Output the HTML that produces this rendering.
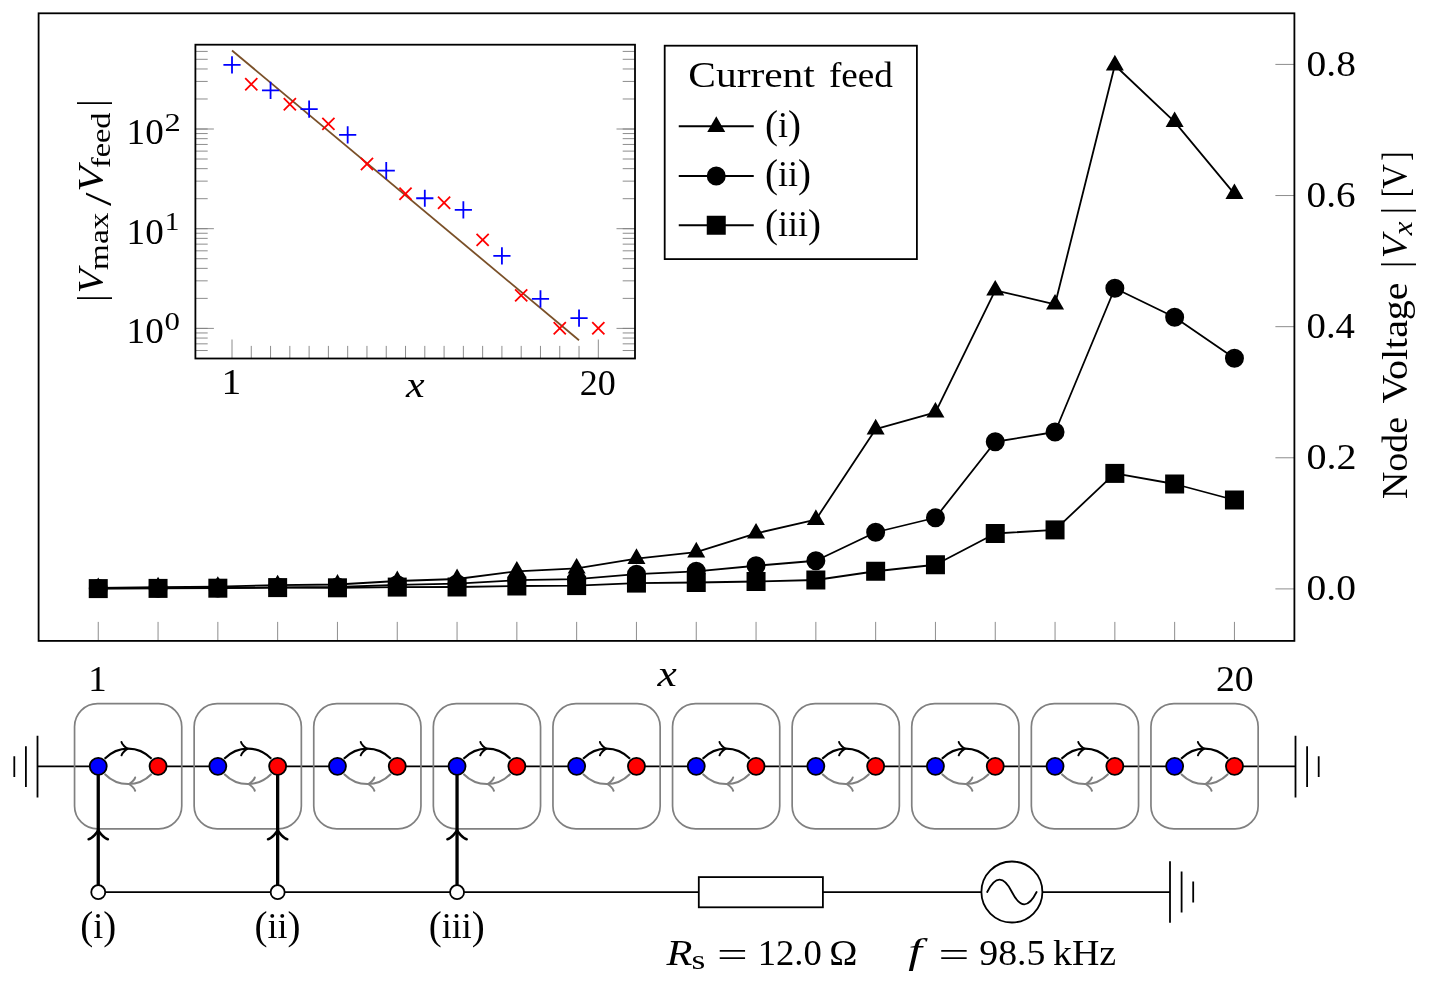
<!DOCTYPE html>
<html lang="en"><head><meta charset="utf-8"><title>Node voltage figure</title>
<style>html,body{margin:0;padding:0;background:#fff}body{width:1451px;height:1000px;overflow:hidden}svg text{white-space:pre}</style>
</head><body>
<svg width="1451" height="1000" viewBox="0 0 1451 1000" style="display:block">
<rect x="0" y="0" width="1451" height="1000" fill="#fff"/>
<path d="M98.25,640.9V621.90M158.05,640.9V621.90M217.85,640.9V621.90M277.65,640.9V621.90M337.45,640.9V621.90M397.25,640.9V621.90M457.05,640.9V621.90M516.85,640.9V621.90M576.65,640.9V621.90M636.45,640.9V621.90M696.25,640.9V621.90M756.05,640.9V621.90M815.85,640.9V621.90M875.65,640.9V621.90M935.45,640.9V621.90M995.25,640.9V621.90M1055.05,640.9V621.90M1114.85,640.9V621.90M1174.65,640.9V621.90M1234.45,640.9V621.90M1294.4,588.90H1275.40M1294.4,457.78H1275.40M1294.4,326.66H1275.40M1294.4,195.54H1275.40M1294.4,64.42H1275.40" stroke="#808080" stroke-width="0.9" fill="none"/>
<polyline points="98.25,587.80 158.05,587.20 217.85,586.60 277.65,585.10 337.45,584.50 397.25,581.00 457.05,579.00 516.85,571.30 576.65,568.40 636.45,558.70 696.25,552.20 756.05,533.40 815.85,519.70 875.65,429.20 935.45,412.30 995.25,290.30 1055.05,304.30 1114.85,65.25 1174.65,121.90 1234.45,193.85" fill="none" stroke="#000" stroke-width="1.8" stroke-linejoin="round"/>
<path d="M98.25,579.20L90.80,592.10L105.70,592.10Z" fill="#000" stroke="#000" stroke-width="1.8" stroke-linejoin="miter"/>
<path d="M158.05,578.60L150.60,591.50L165.50,591.50Z" fill="#000" stroke="#000" stroke-width="1.8" stroke-linejoin="miter"/>
<path d="M217.85,578.00L210.40,590.90L225.30,590.90Z" fill="#000" stroke="#000" stroke-width="1.8" stroke-linejoin="miter"/>
<path d="M277.65,576.50L270.20,589.40L285.10,589.40Z" fill="#000" stroke="#000" stroke-width="1.8" stroke-linejoin="miter"/>
<path d="M337.45,575.90L330.00,588.80L344.90,588.80Z" fill="#000" stroke="#000" stroke-width="1.8" stroke-linejoin="miter"/>
<path d="M397.25,572.40L389.80,585.30L404.70,585.30Z" fill="#000" stroke="#000" stroke-width="1.8" stroke-linejoin="miter"/>
<path d="M457.05,570.40L449.60,583.30L464.50,583.30Z" fill="#000" stroke="#000" stroke-width="1.8" stroke-linejoin="miter"/>
<path d="M516.85,562.70L509.40,575.60L524.30,575.60Z" fill="#000" stroke="#000" stroke-width="1.8" stroke-linejoin="miter"/>
<path d="M576.65,559.80L569.20,572.70L584.10,572.70Z" fill="#000" stroke="#000" stroke-width="1.8" stroke-linejoin="miter"/>
<path d="M636.45,550.10L629.00,563.00L643.90,563.00Z" fill="#000" stroke="#000" stroke-width="1.8" stroke-linejoin="miter"/>
<path d="M696.25,543.60L688.80,556.50L703.70,556.50Z" fill="#000" stroke="#000" stroke-width="1.8" stroke-linejoin="miter"/>
<path d="M756.05,524.80L748.60,537.70L763.50,537.70Z" fill="#000" stroke="#000" stroke-width="1.8" stroke-linejoin="miter"/>
<path d="M815.85,511.10L808.40,524.00L823.30,524.00Z" fill="#000" stroke="#000" stroke-width="1.8" stroke-linejoin="miter"/>
<path d="M875.65,420.60L868.20,433.50L883.10,433.50Z" fill="#000" stroke="#000" stroke-width="1.8" stroke-linejoin="miter"/>
<path d="M935.45,403.70L928.00,416.60L942.90,416.60Z" fill="#000" stroke="#000" stroke-width="1.8" stroke-linejoin="miter"/>
<path d="M995.25,281.70L987.80,294.60L1002.70,294.60Z" fill="#000" stroke="#000" stroke-width="1.8" stroke-linejoin="miter"/>
<path d="M1055.05,295.70L1047.60,308.60L1062.50,308.60Z" fill="#000" stroke="#000" stroke-width="1.8" stroke-linejoin="miter"/>
<path d="M1114.85,56.65L1107.40,69.55L1122.30,69.55Z" fill="#000" stroke="#000" stroke-width="1.8" stroke-linejoin="miter"/>
<path d="M1174.65,113.30L1167.20,126.20L1182.10,126.20Z" fill="#000" stroke="#000" stroke-width="1.8" stroke-linejoin="miter"/>
<path d="M1234.45,185.25L1227.00,198.15L1241.90,198.15Z" fill="#000" stroke="#000" stroke-width="1.8" stroke-linejoin="miter"/>
<polyline points="98.25,588.40 158.05,588.20 217.85,587.90 277.65,587.30 337.45,587.00 397.25,584.80 457.05,583.70 516.85,580.20 576.65,579.20 636.45,574.20 696.25,571.30 756.05,565.75 815.85,560.75 875.65,532.25 935.45,517.75 995.25,441.75 1055.05,432.00 1114.85,288.25 1174.65,317.25 1234.45,358.25" fill="none" stroke="#000" stroke-width="1.8" stroke-linejoin="round"/>
<circle cx="98.25" cy="588.40" r="8.6" fill="#000" stroke="#000" stroke-width="1.8"/>
<circle cx="158.05" cy="588.20" r="8.6" fill="#000" stroke="#000" stroke-width="1.8"/>
<circle cx="217.85" cy="587.90" r="8.6" fill="#000" stroke="#000" stroke-width="1.8"/>
<circle cx="277.65" cy="587.30" r="8.6" fill="#000" stroke="#000" stroke-width="1.8"/>
<circle cx="337.45" cy="587.00" r="8.6" fill="#000" stroke="#000" stroke-width="1.8"/>
<circle cx="397.25" cy="584.80" r="8.6" fill="#000" stroke="#000" stroke-width="1.8"/>
<circle cx="457.05" cy="583.70" r="8.6" fill="#000" stroke="#000" stroke-width="1.8"/>
<circle cx="516.85" cy="580.20" r="8.6" fill="#000" stroke="#000" stroke-width="1.8"/>
<circle cx="576.65" cy="579.20" r="8.6" fill="#000" stroke="#000" stroke-width="1.8"/>
<circle cx="636.45" cy="574.20" r="8.6" fill="#000" stroke="#000" stroke-width="1.8"/>
<circle cx="696.25" cy="571.30" r="8.6" fill="#000" stroke="#000" stroke-width="1.8"/>
<circle cx="756.05" cy="565.75" r="8.6" fill="#000" stroke="#000" stroke-width="1.8"/>
<circle cx="815.85" cy="560.75" r="8.6" fill="#000" stroke="#000" stroke-width="1.8"/>
<circle cx="875.65" cy="532.25" r="8.6" fill="#000" stroke="#000" stroke-width="1.8"/>
<circle cx="935.45" cy="517.75" r="8.6" fill="#000" stroke="#000" stroke-width="1.8"/>
<circle cx="995.25" cy="441.75" r="8.6" fill="#000" stroke="#000" stroke-width="1.8"/>
<circle cx="1055.05" cy="432.00" r="8.6" fill="#000" stroke="#000" stroke-width="1.8"/>
<circle cx="1114.85" cy="288.25" r="8.6" fill="#000" stroke="#000" stroke-width="1.8"/>
<circle cx="1174.65" cy="317.25" r="8.6" fill="#000" stroke="#000" stroke-width="1.8"/>
<circle cx="1234.45" cy="358.25" r="8.6" fill="#000" stroke="#000" stroke-width="1.8"/>
<polyline points="98.25,588.60 158.05,588.40 217.85,588.20 277.65,587.60 337.45,587.80 397.25,587.10 457.05,587.00 516.85,586.00 576.65,585.60 636.45,583.10 696.25,582.50 756.05,581.50 815.85,580.00 875.65,571.25 935.45,564.75 995.25,533.50 1055.05,529.90 1114.85,473.40 1174.65,484.00 1234.45,500.00" fill="none" stroke="#000" stroke-width="1.8" stroke-linejoin="round"/>
<rect x="89.65" y="580.00" width="17.2" height="17.2" fill="#000" stroke="#000" stroke-width="1.8"/>
<rect x="149.45" y="579.80" width="17.2" height="17.2" fill="#000" stroke="#000" stroke-width="1.8"/>
<rect x="209.25" y="579.60" width="17.2" height="17.2" fill="#000" stroke="#000" stroke-width="1.8"/>
<rect x="269.05" y="579.00" width="17.2" height="17.2" fill="#000" stroke="#000" stroke-width="1.8"/>
<rect x="328.85" y="579.20" width="17.2" height="17.2" fill="#000" stroke="#000" stroke-width="1.8"/>
<rect x="388.65" y="578.50" width="17.2" height="17.2" fill="#000" stroke="#000" stroke-width="1.8"/>
<rect x="448.45" y="578.40" width="17.2" height="17.2" fill="#000" stroke="#000" stroke-width="1.8"/>
<rect x="508.25" y="577.40" width="17.2" height="17.2" fill="#000" stroke="#000" stroke-width="1.8"/>
<rect x="568.05" y="577.00" width="17.2" height="17.2" fill="#000" stroke="#000" stroke-width="1.8"/>
<rect x="627.85" y="574.50" width="17.2" height="17.2" fill="#000" stroke="#000" stroke-width="1.8"/>
<rect x="687.65" y="573.90" width="17.2" height="17.2" fill="#000" stroke="#000" stroke-width="1.8"/>
<rect x="747.45" y="572.90" width="17.2" height="17.2" fill="#000" stroke="#000" stroke-width="1.8"/>
<rect x="807.25" y="571.40" width="17.2" height="17.2" fill="#000" stroke="#000" stroke-width="1.8"/>
<rect x="867.05" y="562.65" width="17.2" height="17.2" fill="#000" stroke="#000" stroke-width="1.8"/>
<rect x="926.85" y="556.15" width="17.2" height="17.2" fill="#000" stroke="#000" stroke-width="1.8"/>
<rect x="986.65" y="524.90" width="17.2" height="17.2" fill="#000" stroke="#000" stroke-width="1.8"/>
<rect x="1046.45" y="521.30" width="17.2" height="17.2" fill="#000" stroke="#000" stroke-width="1.8"/>
<rect x="1106.25" y="464.80" width="17.2" height="17.2" fill="#000" stroke="#000" stroke-width="1.8"/>
<rect x="1166.05" y="475.40" width="17.2" height="17.2" fill="#000" stroke="#000" stroke-width="1.8"/>
<rect x="1225.85" y="491.40" width="17.2" height="17.2" fill="#000" stroke="#000" stroke-width="1.8"/>
<rect x="38.6" y="13.3" width="1255.8000000000002" height="627.6" fill="none" stroke="#000" stroke-width="1.8"/>
<g font-family='"Liberation Serif", serif' fill="#000">
<text x="1306.52" y="600.1" font-size="35" textLength="49.36" lengthAdjust="spacingAndGlyphs">0.0</text>
<text x="1306.50" y="469.0" font-size="35" textLength="50.11" lengthAdjust="spacingAndGlyphs">0.2</text>
<text x="1306.55" y="337.9" font-size="35" textLength="48.43" lengthAdjust="spacingAndGlyphs">0.4</text>
<text x="1306.53" y="206.7" font-size="35" textLength="49.05" lengthAdjust="spacingAndGlyphs">0.6</text>
<text x="1306.52" y="75.6" font-size="35" textLength="49.36" lengthAdjust="spacingAndGlyphs">0.8</text>
<text x="88.27" y="690.6" font-size="35" textLength="18.44" lengthAdjust="spacingAndGlyphs">1</text>
<text x="1216.00" y="690.6" font-size="35" textLength="37.72" lengthAdjust="spacingAndGlyphs">20</text>
<text x="657.54" y="686.0" font-size="36" font-style="italic" textLength="19.28" lengthAdjust="spacingAndGlyphs">x</text>
<g transform="translate(1407,498.3) rotate(-90)">
<text x="-0.74" y="0" font-size="36" textLength="82.07" lengthAdjust="spacingAndGlyphs">Node</text>
<text x="94.72" y="0" font-size="36" textLength="121.04" lengthAdjust="spacingAndGlyphs">Voltage</text>
<text x="230.20" y="0.6" font-size="38" textLength="7.20" lengthAdjust="spacingAndGlyphs">|</text>
<text x="239.99" y="0" font-size="36" font-style="italic" textLength="23.38" lengthAdjust="spacingAndGlyphs">V</text>
<text x="262.99" y="5.0" font-size="27" font-style="italic" textLength="13.84" lengthAdjust="spacingAndGlyphs">x</text>
<text x="284.00" y="0.6" font-size="38" textLength="7.20" lengthAdjust="spacingAndGlyphs">|</text>
<text x="301.24" y="0.6" font-size="38" textLength="8.67" lengthAdjust="spacingAndGlyphs">[</text>
<text x="309.46" y="0" font-size="36" textLength="24.57" lengthAdjust="spacingAndGlyphs">V</text>
<text x="337.64" y="0.6" font-size="38" textLength="9.16" lengthAdjust="spacingAndGlyphs">]</text>
</g>
</g>
<rect x="664.7" y="45.7" width="252.2" height="213.4" fill="#fff" stroke="#000" stroke-width="1.8"/>
<path d="M678.75,126.25H753.75" stroke="#000" stroke-width="1.8"/>
<path d="M716.25,118.15L708.80,131.05L723.70,131.05Z" fill="#000" stroke="#000" stroke-width="1.8" stroke-linejoin="miter"/>
<path d="M678.75,176.0H753.75" stroke="#000" stroke-width="1.8"/>
<circle cx="716.25" cy="176.00" r="8.6" fill="#000" stroke="#000" stroke-width="1.8"/>
<path d="M678.75,225.25H753.75" stroke="#000" stroke-width="1.8"/>
<rect x="707.65" y="216.65" width="17.2" height="17.2" fill="#000" stroke="#000" stroke-width="1.8"/>
<g font-family='"Liberation Serif", serif' fill="#000">
<text x="688.34" y="87" font-size="36" textLength="126.46" lengthAdjust="spacingAndGlyphs">Current</text>
<text x="828.99" y="87" font-size="36" textLength="63.98" lengthAdjust="spacingAndGlyphs">feed</text>
<text x="765.1" y="136.9" font-size="36" text-anchor="start"><tspan font-size="39" dy="1.2">(</tspan><tspan dy="-1.2">i</tspan><tspan font-size="39" dy="1.2">)</tspan></text>
<text x="765.1" y="186.2" font-size="36" text-anchor="start"><tspan font-size="39" dy="1.2">(</tspan><tspan dy="-1.2">ii</tspan><tspan font-size="39" dy="1.2">)</tspan></text>
<text x="765.1" y="235.5" font-size="36" text-anchor="start"><tspan font-size="39" dy="1.2">(</tspan><tspan dy="-1.2">iii</tspan><tspan font-size="39" dy="1.2">)</tspan></text>
</g>
<rect x="195.4" y="44.7" width="439.6" height="313.8" fill="#fff" stroke="none"/>
<path d="M232.00,358.5V339.50M251.28,358.5V345.90M270.56,358.5V345.90M289.84,358.5V345.90M309.12,358.5V345.90M328.40,358.5V345.90M347.68,358.5V345.90M366.96,358.5V345.90M386.24,358.5V345.90M405.52,358.5V345.90M424.80,358.5V345.90M444.08,358.5V345.90M463.36,358.5V345.90M482.64,358.5V345.90M501.92,358.5V345.90M521.20,358.5V345.90M540.48,358.5V345.90M559.76,358.5V345.90M579.04,358.5V345.90M598.32,358.5V339.50M195.4,350.52h12.3M635.0,350.52h-12.3M195.4,343.84h12.3M635.0,343.84h-12.3M195.4,338.06h12.3M635.0,338.06h-12.3M195.4,332.96h12.3M635.0,332.96h-12.3M195.4,328.40h18.5M635.0,328.40h-18.5M195.4,328.40h12.3M635.0,328.40h-12.3M195.4,298.39h12.3M635.0,298.39h-12.3M195.4,280.83h12.3M635.0,280.83h-12.3M195.4,268.37h12.3M635.0,268.37h-12.3M195.4,258.71h12.3M635.0,258.71h-12.3M195.4,250.82h12.3M635.0,250.82h-12.3M195.4,244.14h12.3M635.0,244.14h-12.3M195.4,238.36h12.3M635.0,238.36h-12.3M195.4,233.26h12.3M635.0,233.26h-12.3M195.4,228.70h18.5M635.0,228.70h-18.5M195.4,228.70h12.3M635.0,228.70h-12.3M195.4,198.69h12.3M635.0,198.69h-12.3M195.4,181.13h12.3M635.0,181.13h-12.3M195.4,168.67h12.3M635.0,168.67h-12.3M195.4,159.01h12.3M635.0,159.01h-12.3M195.4,151.12h12.3M635.0,151.12h-12.3M195.4,144.44h12.3M635.0,144.44h-12.3M195.4,138.66h12.3M635.0,138.66h-12.3M195.4,133.56h12.3M635.0,133.56h-12.3M195.4,129.00h18.5M635.0,129.00h-18.5M195.4,129.00h12.3M635.0,129.00h-12.3M195.4,98.99h12.3M635.0,98.99h-12.3M195.4,81.43h12.3M635.0,81.43h-12.3M195.4,68.97h12.3M635.0,68.97h-12.3M195.4,59.31h12.3M635.0,59.31h-12.3M195.4,51.42h12.3M635.0,51.42h-12.3" stroke="#808080" stroke-width="0.9" fill="none"/>
<path d="M232.0,50.5L579.0,340.2" stroke="#7a5028" stroke-width="1.8" fill="none"/>
<path d="M223.40,64.80h17.2M232.00,56.20v17.2M261.96,90.40h17.2M270.56,81.80v17.2M300.52,109.10h17.2M309.12,100.50v17.2M339.08,134.90h17.2M347.68,126.30v17.2M377.64,170.70h17.2M386.24,162.10v17.2M416.20,198.25h17.2M424.80,189.65v17.2M454.76,209.80h17.2M463.36,201.20v17.2M493.32,255.90h17.2M501.92,247.30v17.2M531.88,298.80h17.2M540.48,290.20v17.2M570.44,318.10h17.2M579.04,309.50v17.2" stroke="#0000ff" stroke-width="1.8" fill="none"/>
<path d="M245.20,78.22l12.16,12.16M245.20,90.38l12.16,-12.16M283.76,98.12l12.16,12.16M283.76,110.28l12.16,-12.16M322.32,117.82l12.16,12.16M322.32,129.98l12.16,-12.16M360.88,157.97l12.16,12.16M360.88,170.13l12.16,-12.16M399.44,187.62l12.16,12.16M399.44,199.78l12.16,-12.16M438.00,196.62l12.16,12.16M438.00,208.78l12.16,-12.16M476.56,233.82l12.16,12.16M476.56,245.98l12.16,-12.16M515.12,289.32l12.16,12.16M515.12,301.48l12.16,-12.16M553.68,322.12l12.16,12.16M553.68,334.28l12.16,-12.16M592.24,322.22l12.16,12.16M592.24,334.38l12.16,-12.16" stroke="#ff0000" stroke-width="1.8" fill="none"/>
<rect x="195.4" y="44.7" width="439.6" height="313.8" fill="none" stroke="#000" stroke-width="1.8"/>
<g font-family='"Liberation Serif", serif' fill="#000">
<text x="126.60" y="343.4" font-size="35" textLength="37.09" lengthAdjust="spacingAndGlyphs">10</text>
<text x="164.64" y="330.0" font-size="26" textLength="15.41" lengthAdjust="spacingAndGlyphs">0</text>
<text x="126.60" y="243.7" font-size="35" textLength="37.09" lengthAdjust="spacingAndGlyphs">10</text>
<text x="164.84" y="230.3" font-size="26" textLength="14.61" lengthAdjust="spacingAndGlyphs">1</text>
<text x="126.60" y="144.0" font-size="35" textLength="37.09" lengthAdjust="spacingAndGlyphs">10</text>
<text x="164.42" y="130.6" font-size="26" textLength="16.27" lengthAdjust="spacingAndGlyphs">2</text>
<text x="221.45" y="394.4" font-size="35" textLength="19.72" lengthAdjust="spacingAndGlyphs">1</text>
<text x="579.87" y="394.6" font-size="35" textLength="35.98" lengthAdjust="spacingAndGlyphs">20</text>
<text x="406.12" y="397.3" font-size="36" font-style="italic" textLength="18.59" lengthAdjust="spacingAndGlyphs">x</text>
<g transform="translate(102.9,300) rotate(-90)">
<text x="-1.70" y="0.6" font-size="38" textLength="7.20" lengthAdjust="spacingAndGlyphs">|</text>
<text x="6.72" y="0" font-size="36" font-style="italic" textLength="24.21" lengthAdjust="spacingAndGlyphs">V</text>
<text x="29.83" y="5.4" font-size="27" textLength="57.79" lengthAdjust="spacingAndGlyphs">max</text>
<text x="94.00" y="8.5" font-size="38" textLength="13.60" lengthAdjust="spacingAndGlyphs">/</text>
<text x="108.20" y="0" font-size="36" font-style="italic" textLength="25.61" lengthAdjust="spacingAndGlyphs">V</text>
<text x="132.03" y="7.2" font-size="27" textLength="55.47" lengthAdjust="spacingAndGlyphs">feed</text>
<text x="193.20" y="0.6" font-size="38" textLength="7.20" lengthAdjust="spacingAndGlyphs">|</text>
</g>
</g>
<path d="M37.5,766.3H98.25M158.05,766.3H217.85M277.65,766.3H337.45M397.25,766.3H457.05M516.85,766.3H576.65M636.45,766.3H696.25M756.05,766.3H815.85M875.65,766.3H935.45M995.25,766.3H1055.05M1114.85,766.3H1174.65M1234.45,766.3H1295.5M37.50,735.80V797.40M25.90,746.20V787.00M14.30,756.20V777.00M1295.50,735.80V797.40M1307.10,746.20V787.00M1318.70,756.20V777.00M98.25,892.2H698.8M822.9,892.2H981M1043,892.2H1170M1170.00,861.20V922.80M1181.60,871.60V912.40M1193.20,881.60V902.40" stroke="#000" stroke-width="1.8" fill="none"/>
<rect x="74.55" y="703.7" width="107.2" height="125.2" rx="23" ry="23" fill="none" stroke="#808080" stroke-width="1.7"/>
<rect x="194.15" y="703.7" width="107.2" height="125.2" rx="23" ry="23" fill="none" stroke="#808080" stroke-width="1.7"/>
<rect x="313.75" y="703.7" width="107.2" height="125.2" rx="23" ry="23" fill="none" stroke="#808080" stroke-width="1.7"/>
<rect x="433.35" y="703.7" width="107.2" height="125.2" rx="23" ry="23" fill="none" stroke="#808080" stroke-width="1.7"/>
<rect x="552.95" y="703.7" width="107.2" height="125.2" rx="23" ry="23" fill="none" stroke="#808080" stroke-width="1.7"/>
<rect x="672.55" y="703.7" width="107.2" height="125.2" rx="23" ry="23" fill="none" stroke="#808080" stroke-width="1.7"/>
<rect x="792.15" y="703.7" width="107.2" height="125.2" rx="23" ry="23" fill="none" stroke="#808080" stroke-width="1.7"/>
<rect x="911.75" y="703.7" width="107.2" height="125.2" rx="23" ry="23" fill="none" stroke="#808080" stroke-width="1.7"/>
<rect x="1031.35" y="703.7" width="107.2" height="125.2" rx="23" ry="23" fill="none" stroke="#808080" stroke-width="1.7"/>
<rect x="1150.95" y="703.7" width="107.2" height="125.2" rx="23" ry="23" fill="none" stroke="#808080" stroke-width="1.7"/>
<path d="M98.25,766.3V892.2" stroke="#000" stroke-width="3.3" fill="none"/>
<path d="M107.85,839.20C104.25,838.60 98.85,832.00 98.25,830.20C97.65,832.00 92.25,838.60 88.65,839.20" fill="none" stroke="#000" stroke-width="2.6" stroke-linecap="round" stroke-linejoin="round"/>
<path d="M277.65,766.3V892.2" stroke="#000" stroke-width="3.3" fill="none"/>
<path d="M287.25,839.20C283.65,838.60 278.25,832.00 277.65,830.20C277.05,832.00 271.65,838.60 268.05,839.20" fill="none" stroke="#000" stroke-width="2.6" stroke-linecap="round" stroke-linejoin="round"/>
<path d="M457.05,766.3V892.2" stroke="#000" stroke-width="3.3" fill="none"/>
<path d="M466.65,839.20C463.05,838.60 457.65,832.00 457.05,830.20C456.45,832.00 451.05,838.60 447.45,839.20" fill="none" stroke="#000" stroke-width="2.6" stroke-linecap="round" stroke-linejoin="round"/>
<path d="M104.65,758.70C118.15,745.20 138.15,745.20 151.65,758.70" fill="none" stroke="#000" stroke-width="2.1"/>
<path d="M121.53,755.34C121.94,752.85 126.50,749.11 127.75,748.70C126.50,748.28 121.94,744.55 121.53,742.06" fill="none" stroke="#000" stroke-width="2.0" stroke-linecap="round" stroke-linejoin="round"/>
<path d="M151.65,773.90C138.15,787.40 118.15,787.40 104.65,773.90" fill="none" stroke="#808080" stroke-width="2.1"/>
<path d="M135.18,777.46C134.76,779.95 130.20,783.68 128.95,784.10C130.20,784.51 134.76,788.25 135.18,790.74" fill="none" stroke="#808080" stroke-width="2.0" stroke-linecap="round" stroke-linejoin="round"/>
<path d="M224.25,758.70C237.75,745.20 257.75,745.20 271.25,758.70" fill="none" stroke="#000" stroke-width="2.1"/>
<path d="M241.12,755.34C241.54,752.85 246.10,749.11 247.35,748.70C246.10,748.28 241.54,744.55 241.12,742.06" fill="none" stroke="#000" stroke-width="2.0" stroke-linecap="round" stroke-linejoin="round"/>
<path d="M271.25,773.90C257.75,787.40 237.75,787.40 224.25,773.90" fill="none" stroke="#808080" stroke-width="2.1"/>
<path d="M254.78,777.46C254.36,779.95 249.80,783.68 248.55,784.10C249.80,784.51 254.36,788.25 254.78,790.74" fill="none" stroke="#808080" stroke-width="2.0" stroke-linecap="round" stroke-linejoin="round"/>
<path d="M343.85,758.70C357.35,745.20 377.35,745.20 390.85,758.70" fill="none" stroke="#000" stroke-width="2.1"/>
<path d="M360.73,755.34C361.14,752.85 365.71,749.11 366.95,748.70C365.71,748.28 361.14,744.55 360.73,742.06" fill="none" stroke="#000" stroke-width="2.0" stroke-linecap="round" stroke-linejoin="round"/>
<path d="M390.85,773.90C377.35,787.40 357.35,787.40 343.85,773.90" fill="none" stroke="#808080" stroke-width="2.1"/>
<path d="M374.38,777.46C373.96,779.95 369.40,783.68 368.15,784.10C369.40,784.51 373.96,788.25 374.38,790.74" fill="none" stroke="#808080" stroke-width="2.0" stroke-linecap="round" stroke-linejoin="round"/>
<path d="M463.45,758.70C476.95,745.20 496.95,745.20 510.45,758.70" fill="none" stroke="#000" stroke-width="2.1"/>
<path d="M480.32,755.34C480.74,752.85 485.30,749.11 486.55,748.70C485.30,748.28 480.74,744.55 480.32,742.06" fill="none" stroke="#000" stroke-width="2.0" stroke-linecap="round" stroke-linejoin="round"/>
<path d="M510.45,773.90C496.95,787.40 476.95,787.40 463.45,773.90" fill="none" stroke="#808080" stroke-width="2.1"/>
<path d="M493.97,777.46C493.56,779.95 488.99,783.68 487.75,784.10C488.99,784.51 493.56,788.25 493.97,790.74" fill="none" stroke="#808080" stroke-width="2.0" stroke-linecap="round" stroke-linejoin="round"/>
<path d="M583.05,758.70C596.55,745.20 616.55,745.20 630.05,758.70" fill="none" stroke="#000" stroke-width="2.1"/>
<path d="M599.92,755.34C600.34,752.85 604.90,749.11 606.15,748.70C604.90,748.28 600.34,744.55 599.92,742.06" fill="none" stroke="#000" stroke-width="2.0" stroke-linecap="round" stroke-linejoin="round"/>
<path d="M630.05,773.90C616.55,787.40 596.55,787.40 583.05,773.90" fill="none" stroke="#808080" stroke-width="2.1"/>
<path d="M613.57,777.46C613.16,779.95 608.59,783.68 607.35,784.10C608.59,784.51 613.16,788.25 613.57,790.74" fill="none" stroke="#808080" stroke-width="2.0" stroke-linecap="round" stroke-linejoin="round"/>
<path d="M702.65,758.70C716.15,745.20 736.15,745.20 749.65,758.70" fill="none" stroke="#000" stroke-width="2.1"/>
<path d="M719.52,755.34C719.94,752.85 724.50,749.11 725.75,748.70C724.50,748.28 719.94,744.55 719.52,742.06" fill="none" stroke="#000" stroke-width="2.0" stroke-linecap="round" stroke-linejoin="round"/>
<path d="M749.65,773.90C736.15,787.40 716.15,787.40 702.65,773.90" fill="none" stroke="#808080" stroke-width="2.1"/>
<path d="M733.17,777.46C732.76,779.95 728.19,783.68 726.95,784.10C728.19,784.51 732.76,788.25 733.17,790.74" fill="none" stroke="#808080" stroke-width="2.0" stroke-linecap="round" stroke-linejoin="round"/>
<path d="M822.25,758.70C835.75,745.20 855.75,745.20 869.25,758.70" fill="none" stroke="#000" stroke-width="2.1"/>
<path d="M839.12,755.34C839.54,752.85 844.11,749.11 845.35,748.70C844.11,748.28 839.54,744.55 839.12,742.06" fill="none" stroke="#000" stroke-width="2.0" stroke-linecap="round" stroke-linejoin="round"/>
<path d="M869.25,773.90C855.75,787.40 835.75,787.40 822.25,773.90" fill="none" stroke="#808080" stroke-width="2.1"/>
<path d="M852.77,777.46C852.36,779.95 847.79,783.68 846.55,784.10C847.79,784.51 852.36,788.25 852.77,790.74" fill="none" stroke="#808080" stroke-width="2.0" stroke-linecap="round" stroke-linejoin="round"/>
<path d="M941.85,758.70C955.35,745.20 975.35,745.20 988.85,758.70" fill="none" stroke="#000" stroke-width="2.1"/>
<path d="M958.72,755.34C959.14,752.85 963.70,749.11 964.95,748.70C963.70,748.28 959.14,744.55 958.72,742.06" fill="none" stroke="#000" stroke-width="2.0" stroke-linecap="round" stroke-linejoin="round"/>
<path d="M988.85,773.90C975.35,787.40 955.35,787.40 941.85,773.90" fill="none" stroke="#808080" stroke-width="2.1"/>
<path d="M972.37,777.46C971.96,779.95 967.39,783.68 966.15,784.10C967.39,784.51 971.96,788.25 972.37,790.74" fill="none" stroke="#808080" stroke-width="2.0" stroke-linecap="round" stroke-linejoin="round"/>
<path d="M1061.45,758.70C1074.95,745.20 1094.95,745.20 1108.45,758.70" fill="none" stroke="#000" stroke-width="2.1"/>
<path d="M1078.32,755.34C1078.74,752.85 1083.30,749.11 1084.55,748.70C1083.30,748.28 1078.74,744.55 1078.32,742.06" fill="none" stroke="#000" stroke-width="2.0" stroke-linecap="round" stroke-linejoin="round"/>
<path d="M1108.45,773.90C1094.95,787.40 1074.95,787.40 1061.45,773.90" fill="none" stroke="#808080" stroke-width="2.1"/>
<path d="M1091.97,777.46C1091.56,779.95 1086.99,783.68 1085.75,784.10C1086.99,784.51 1091.56,788.25 1091.97,790.74" fill="none" stroke="#808080" stroke-width="2.0" stroke-linecap="round" stroke-linejoin="round"/>
<path d="M1181.05,758.70C1194.55,745.20 1214.55,745.20 1228.05,758.70" fill="none" stroke="#000" stroke-width="2.1"/>
<path d="M1197.92,755.34C1198.34,752.85 1202.90,749.11 1204.15,748.70C1202.90,748.28 1198.34,744.55 1197.92,742.06" fill="none" stroke="#000" stroke-width="2.0" stroke-linecap="round" stroke-linejoin="round"/>
<path d="M1228.05,773.90C1214.55,787.40 1194.55,787.40 1181.05,773.90" fill="none" stroke="#808080" stroke-width="2.1"/>
<path d="M1211.57,777.46C1211.16,779.95 1206.59,783.68 1205.35,784.10C1206.59,784.51 1211.16,788.25 1211.57,790.74" fill="none" stroke="#808080" stroke-width="2.0" stroke-linecap="round" stroke-linejoin="round"/>
<circle cx="98.25" cy="766.3" r="8.5" fill="#0000ff" stroke="#000" stroke-width="1.8"/>
<circle cx="158.05" cy="766.3" r="8.5" fill="#ff0000" stroke="#000" stroke-width="1.8"/>
<circle cx="217.85" cy="766.3" r="8.5" fill="#0000ff" stroke="#000" stroke-width="1.8"/>
<circle cx="277.65" cy="766.3" r="8.5" fill="#ff0000" stroke="#000" stroke-width="1.8"/>
<circle cx="337.45" cy="766.3" r="8.5" fill="#0000ff" stroke="#000" stroke-width="1.8"/>
<circle cx="397.25" cy="766.3" r="8.5" fill="#ff0000" stroke="#000" stroke-width="1.8"/>
<circle cx="457.05" cy="766.3" r="8.5" fill="#0000ff" stroke="#000" stroke-width="1.8"/>
<circle cx="516.85" cy="766.3" r="8.5" fill="#ff0000" stroke="#000" stroke-width="1.8"/>
<circle cx="576.65" cy="766.3" r="8.5" fill="#0000ff" stroke="#000" stroke-width="1.8"/>
<circle cx="636.45" cy="766.3" r="8.5" fill="#ff0000" stroke="#000" stroke-width="1.8"/>
<circle cx="696.25" cy="766.3" r="8.5" fill="#0000ff" stroke="#000" stroke-width="1.8"/>
<circle cx="756.05" cy="766.3" r="8.5" fill="#ff0000" stroke="#000" stroke-width="1.8"/>
<circle cx="815.85" cy="766.3" r="8.5" fill="#0000ff" stroke="#000" stroke-width="1.8"/>
<circle cx="875.65" cy="766.3" r="8.5" fill="#ff0000" stroke="#000" stroke-width="1.8"/>
<circle cx="935.45" cy="766.3" r="8.5" fill="#0000ff" stroke="#000" stroke-width="1.8"/>
<circle cx="995.25" cy="766.3" r="8.5" fill="#ff0000" stroke="#000" stroke-width="1.8"/>
<circle cx="1055.05" cy="766.3" r="8.5" fill="#0000ff" stroke="#000" stroke-width="1.8"/>
<circle cx="1114.85" cy="766.3" r="8.5" fill="#ff0000" stroke="#000" stroke-width="1.8"/>
<circle cx="1174.65" cy="766.3" r="8.5" fill="#0000ff" stroke="#000" stroke-width="1.8"/>
<circle cx="1234.45" cy="766.3" r="8.5" fill="#ff0000" stroke="#000" stroke-width="1.8"/>
<circle cx="98.25" cy="892.2" r="7" fill="#fff" stroke="#000" stroke-width="1.8"/>
<circle cx="277.65" cy="892.2" r="7" fill="#fff" stroke="#000" stroke-width="1.8"/>
<circle cx="457.05" cy="892.2" r="7" fill="#fff" stroke="#000" stroke-width="1.8"/>
<rect x="698.8" y="877.1" width="124.1" height="30.2" fill="#fff" stroke="#000" stroke-width="1.8"/>
<circle cx="1011.9" cy="892" r="30.5" fill="#fff" stroke="#000" stroke-width="1.8"/>
<path d="M987.2,892C995.4,875.6 1003.7,875.6 1011.9,892S1028.4,908.4 1036.6,892" fill="none" stroke="#000" stroke-width="1.8" stroke-linecap="round"/>
<g font-family='"Liberation Serif", serif' fill="#000">
<text x="98.2" y="937.9" font-size="36" text-anchor="middle"><tspan font-size="39" dy="1.2">(</tspan><tspan dy="-1.2">i</tspan><tspan font-size="39" dy="1.2">)</tspan></text>
<text x="277.6" y="937.9" font-size="36" text-anchor="middle"><tspan font-size="39" dy="1.2">(</tspan><tspan dy="-1.2">ii</tspan><tspan font-size="39" dy="1.2">)</tspan></text>
<text x="456.8" y="937.9" font-size="36" text-anchor="middle"><tspan font-size="39" dy="1.2">(</tspan><tspan dy="-1.2">iii</tspan><tspan font-size="39" dy="1.2">)</tspan></text>
<text x="666.41" y="964.7" font-size="36" font-style="italic" textLength="25.93" lengthAdjust="spacingAndGlyphs">R</text>
<text x="691.58" y="968.5" font-size="27" textLength="13.85" lengthAdjust="spacingAndGlyphs">s</text>
<text x="717.08" y="967.0" font-size="36" textLength="30.74" lengthAdjust="spacingAndGlyphs">=</text>
<text x="757.70" y="964.9" font-size="35" textLength="64.08" lengthAdjust="spacingAndGlyphs">12.0</text>
<text x="829.21" y="964.7" font-size="36" textLength="28.19" lengthAdjust="spacingAndGlyphs">Ω</text>
<text x="908.30" y="963.0" font-size="36" font-style="italic" textLength="13.78" lengthAdjust="spacingAndGlyphs">f</text>
<text x="938.57" y="967.0" font-size="36" textLength="30.86" lengthAdjust="spacingAndGlyphs">=</text>
<text x="979.27" y="964.9" font-size="35" textLength="66.04" lengthAdjust="spacingAndGlyphs">98.5</text>
<text x="1052.94" y="964.7" font-size="36" textLength="63.19" lengthAdjust="spacingAndGlyphs">kHz</text>
</g>
</svg>
</body></html>
